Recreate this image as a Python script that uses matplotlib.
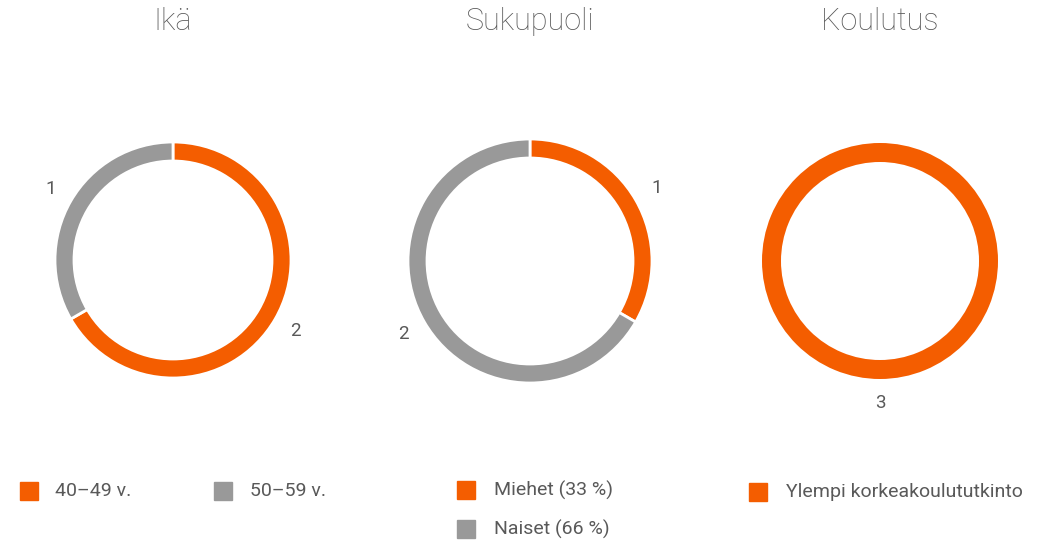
import matplotlib.pyplot as plt
from matplotlib.patches import Rectangle

# data
titles = ["Ikä", "Sukupuoli", "Koulutus"]
age_labels = ["40–49 v.", "50–59 v."]
age_values = [2, 1]
sex_labels = ["Miehet (33 %)", "Naiset (66 %)"]
sex_values = [1, 2]
edu_labels = ["Ylempi korkeakoulututkinto"]
edu_values = [3]

orange = "#F45D00"
grey = "#999999"
txt = "#595959"

W, H = 1046, 541
fig = plt.figure(figsize=(W / 100, H / 100), dpi=100)
plt.rcParams['font.family'] = ['Roboto', 'DejaVu Sans']

# centre x, centre y, outer radius (px)
rings = [(173, 260, 118), (530, 261, 122), (880, 261, 118)]
groups = [(age_values, [orange, grey]),
          (sex_values, [orange, grey]),
          (edu_values, [orange])]
box = 320

for (cx, cy, R), (vals, cols), title in zip(rings, groups, titles):
    ax = fig.add_axes([(cx - box / 2) / W, (H - cy - box / 2) / H, box / W, box / H])
    lim = box / 2 / R
    lw = 2 if len(vals) > 1 else 0
    ax.pie(vals, colors=cols, startangle=90, counterclock=False, radius=1,
           labels=[str(v) for v in vals], labeldistance=1.2,
           textprops=dict(color=txt, fontsize=13.5, ha='center', va='center'),
           wedgeprops=dict(width=19 / R, edgecolor='white', linewidth=lw))
    ax.set_xlim(-lim, lim)
    ax.set_ylim(-lim, lim)
    ax.set_aspect('equal')
    ax.axis('off')
    fig.text(cx / W, 1 - 22 / H, title, ha='center', va='center',
             fontsize=22, color=txt, fontweight='light')

# legends: (square x, text x, y) per entry
legend_items = [
    (age_labels[0], orange, 20, 55, 491),
    (age_labels[1], grey, 214, 250, 491),
    (sex_labels[0], orange, 457, 494, 490),
    (sex_labels[1], grey, 457, 494, 529),
    (edu_labels[0], orange, 749, 786, 492),
]
sq = 18
for lab, col, sx, tx, y in legend_items:
    fig.patches.append(Rectangle((sx / W, (H - y - sq / 2) / H), sq / W, sq / H,
                                 transform=fig.transFigure, color=col))
    fig.text(tx / W, 1 - y / H, lab, ha='left', va='center', fontsize=14, color=txt)

fig.savefig("out.png", dpi=100)
